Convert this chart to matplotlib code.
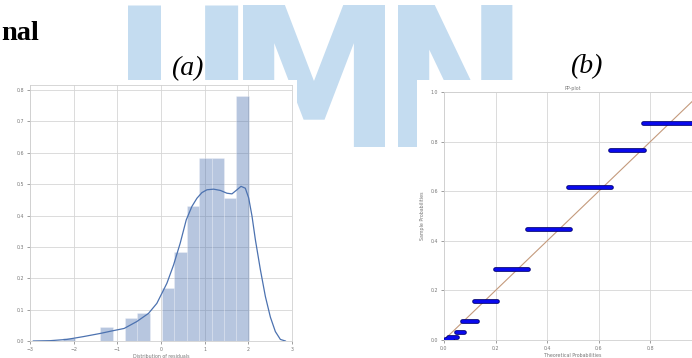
import numpy as np
import matplotlib
matplotlib.use("Agg")
import matplotlib.pyplot as plt
from matplotlib.patches import Rectangle
from matplotlib import font_manager as fm

# ---------------- data ----------------
# (a) histogram of residuals with KDE
hist_edges = [-2.243, -1.959, -1.676, -1.392, -1.109, -0.825, -0.541, -0.258,
              0.026, 0.309, 0.593, 0.877, 1.160, 1.444, 1.727, 2.011]
hist_density = [0.008, 0.0, 0.0, 0.044, 0.0, 0.072, 0.088, 0.0,
                0.168, 0.285, 0.431, 0.582, 0.582, 0.455, 0.781]
kde_x = [-2.924, -2.541, -2.159, -1.777, -1.394, -1.127, -0.844, -0.554, -0.286,
         -0.095, 0.020, 0.135, 0.287, 0.440, 0.578, 0.708, 0.823, 0.937, 1.052,
         1.205, 1.358, 1.511, 1.625, 1.740, 1.832, 1.931, 2.008, 2.084, 2.161,
         2.275, 2.390, 2.505, 2.619, 2.734, 2.849]
kde_y = [0.000, 0.001, 0.005, 0.014, 0.024, 0.032, 0.040, 0.062, 0.088,
         0.120, 0.152, 0.184, 0.242, 0.312, 0.386, 0.429, 0.455, 0.473, 0.482,
         0.484, 0.480, 0.471, 0.469, 0.482, 0.493, 0.487, 0.456, 0.398, 0.323,
         0.228, 0.142, 0.076, 0.030, 0.005, 0.000]
a_xticks = [-3, -2, -1, 0, 1, 2, 3]
a_yticks = [0.0, 0.1, 0.2, 0.3, 0.4, 0.5, 0.6, 0.7, 0.8]
a_xlabel = "Distribution of residuals"

# (b) P-P plot: runs of equal sample probability
pp_sample = [0.004, 0.012, 0.031, 0.078, 0.159, 0.286, 0.447, 0.616, 0.765, 0.875]
pp_theo_start = [0.005, 0.017, 0.046, 0.068, 0.117, 0.197, 0.320, 0.481, 0.643, 0.772]
pp_theo_end = [0.030, 0.049, 0.077, 0.126, 0.204, 0.326, 0.488, 0.649, 0.775, 1.000]
b_xticks = [0.0, 0.2, 0.4, 0.6, 0.8]
b_yticks = [0.0, 0.2, 0.4, 0.6, 0.8, 1.0]
b_title = "PP-plot"
b_xlabel = "Theoretical Probabilities"
b_ylabel = "Sample Probabilities"

# ---------------- figure ----------------
W, H = 692, 358
fig = plt.figure(figsize=(W / 100, H / 100), dpi=100)
fig.patch.set_facecolor("white")

def fx(px):
    return px / W

def fy(py):
    return 1 - py / H

# pick a narrow bold sans for the watermark letters
wm_family, wm_stretch = "Roboto", "normal"
for fam, st in [("Liberation Sans Narrow", "normal"), ("DejaVu Sans", "condensed")]:
    try:
        path = fm.findfont(fm.FontProperties(family=fam, weight="bold", stretch=st),
                           fallback_to_default=False)
        if "Narrow" in path or "Condensed" in path:
            wm_family, wm_stretch = fam, st
            break
    except Exception:
        pass

# watermark (behind the chart panels)
wm_color = "#c4dcf0"
for ch, cx in [("U", 183), ("M", 314), ("N", 455)]:
    fig.text(fx(cx), fy(147), ch, ha="center", va="baseline", fontsize=140,
             family=wm_family, stretch=wm_stretch, weight="bold",
             color=wm_color, zorder=-5)

# white chart panels
fig.patches.append(Rectangle((0, fy(358)), fx(297), fy(80) - fy(358),
                             transform=fig.transFigure, facecolor="white",
                             edgecolor="none", zorder=-1))
fig.patches.append(Rectangle((fx(417), fy(358)), fx(692) - fx(417), fy(80) - fy(358),
                             transform=fig.transFigure, facecolor="white",
                             edgecolor="none", zorder=-1))

# document text
fig.text(fx(1), fy(40), "nal", ha="left", va="baseline", fontsize=20.5,
         family="Liberation Serif", weight="bold", color="black")
fig.text(fx(187), fy(75), "(a)", ha="center", va="baseline", fontsize=20,
         family="Liberation Serif", style="italic", color="black")
fig.text(fx(586), fy(73), "(b)", ha="center", va="baseline", fontsize=20,
         family="Liberation Serif", style="italic", color="black")

grid_c = "#d6d6d6"
spine_c = "#d0d0d0"
tick_c = "#777777"
fs = 3.4

def style(ax):
    ax.set_facecolor("white")
    ax.grid(True, color=grid_c, lw=0.6)
    ax.set_axisbelow(True)
    for s in ax.spines.values():
        s.set_color(spine_c)
        s.set_linewidth(0.6)
    ax.tick_params(labelsize=fs, colors=tick_c, length=2, width=0.5, pad=2)

# ---- (a) ----
ax1 = fig.add_axes([fx(30), fy(341), fx(292) - fx(30), fy(85) - fy(341)])
style(ax1)
widths = np.diff(hist_edges)
ax1.bar(hist_edges[:-1], hist_density, width=widths, align="edge",
        color="#4C72B0", alpha=0.4, edgecolor="white", linewidth=0.4)
ax1.plot(kde_x, kde_y, color="#4C72B0", lw=0.9)
ax1.set_xlim(-3, 3)
ax1.set_ylim(0, 0.816)
ax1.set_xticks(a_xticks)
ax1.set_yticks(a_yticks)
ax1.set_yticklabels([f"{v:.1f}" for v in a_yticks])
ax1.set_xlabel(a_xlabel, fontsize=fs, color=tick_c, labelpad=1.5)

# ---- (b) ----
ax2 = fig.add_axes([fx(444), fy(340), fx(702) - fx(444), fy(92) - fy(340)])
style(ax2)
ax2.plot([0, 1], [0, 1], color="#c49a7c", lw=0.8, zorder=2)
ax2.hlines(pp_sample, pp_theo_start, pp_theo_end, color="#00007a", lw=3.4,
           zorder=3, capstyle="round")
ax2.hlines(pp_sample, pp_theo_start, pp_theo_end, color="#0a0aee", lw=2.1,
           zorder=4, capstyle="round")
ax2.set_xlim(0, 1)
ax2.set_ylim(0, 1)
ax2.set_xticks(b_xticks)
ax2.set_yticks(b_yticks)
ax2.set_xticklabels([f"{v:.1f}" for v in b_xticks])
ax2.set_yticklabels([f"{v:.1f}" for v in b_yticks])
ax2.set_title(b_title, fontsize=fs, color=tick_c, pad=1.5)
ax2.set_xlabel(b_xlabel, fontsize=fs, color=tick_c, labelpad=1.5)
ax2.set_ylabel(b_ylabel, fontsize=fs, color=tick_c, labelpad=4)

fig.savefig("out.png", dpi=100)
